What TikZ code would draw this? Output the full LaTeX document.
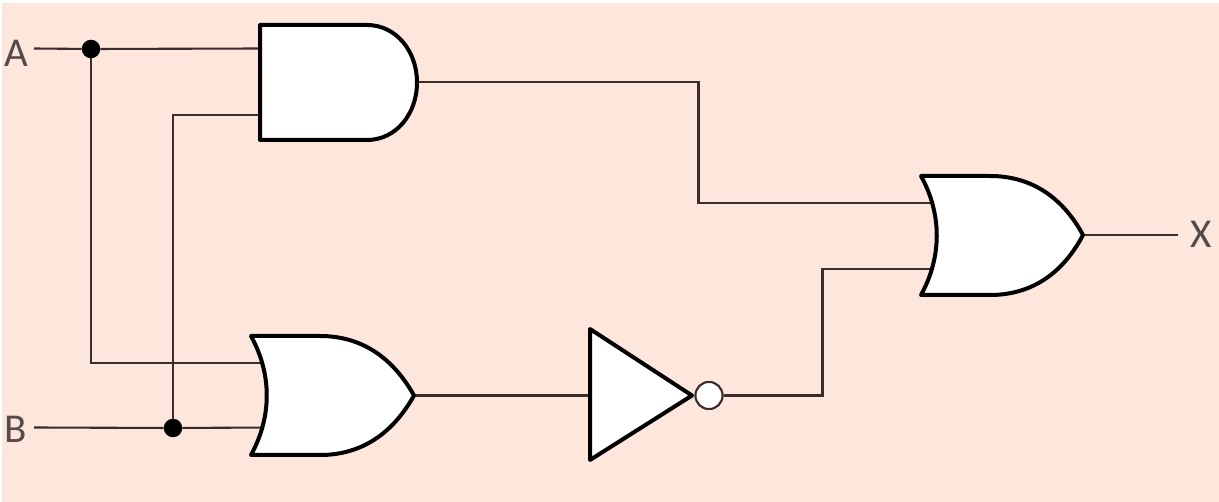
\documentclass[tikz,border=0pt]{standalone}
\usepackage{fontspec}
\setmainfont{Carlito}
\definecolor{peach}{HTML}{FDE6DB}
\definecolor{wirec}{HTML}{3A2C28}
\definecolor{textc}{HTML}{55494A}
\tikzset{
  wire/.style={draw=wirec,line width=2.1pt},
  gatebody/.style={draw=black,fill=white,line width=4pt,line join=round},
  jdot/.style={circle,fill=black,inner sep=0pt,minimum size=18.5pt},
  bubble/.style={circle,draw=wirec,fill=white,line width=2pt,inner sep=0pt,minimum size=27pt},
  lbl/.style={text=textc,font=\fontsize{41pt}{41pt}\selectfont,inner sep=0pt,anchor=center}
}
\begin{document}
\begin{tikzpicture}[x=1pt,y=-1pt]
\useasboundingbox (0,0) rectangle (1219,502);
\fill[white] (0,0) rectangle (1219,502);
\fill[peach] (2,3) rectangle (1219,502);
% pins
\coordinate (astart) at (34,48.5);
\coordinate (bstart) at (34,427.5);
\coordinate (ai) at (262,48.5);
\coordinate (bi) at (262,115);
\coordinate (aturn) at (91,363);
\coordinate (o1a) at (270,363);
\coordinate (o1b) at (270,427.5);
\coordinate (bturn) at (173,115);
\coordinate (ao) at (415,82);
\coordinate (o1o) at (413,395.5);
\coordinate (invi) at (591,395.5);
\coordinate (t1) at (698.5,82);
\coordinate (t2) at (698.5,203);
\coordinate (o2a) at (940,203);
\coordinate (t3) at (822.5,395.5);
\coordinate (t4) at (822.5,269);
\coordinate (o2b) at (940,269);
\coordinate (o2o) at (1082,235);
\coordinate (xend) at (1178,235);
% junctions and inverter bubble
\node[jdot] (ja) at (91,49) {};
\node[jdot] (jb) at (173,428) {};
\node[bubble] (bub) at (709,395.5) {};
% labels
\node[lbl] (A) at (16.5,53.5) {A};
\node[lbl] (B) at (15.5,429) {B};
\node[lbl] (X) at (1201,234) {X};
% wires
\draw[wire] (astart) -- (ja) -- (ai);
\draw[wire] (ja) -- (aturn) -- (o1a);
\draw[wire] (bstart) -- (jb) -- (o1b);
\draw[wire] (jb) -- (bturn) -- (bi);
\draw[wire] (ao) -- (t1) -- (t2) -- (o2a);
\draw[wire] (o1o) -- (invi);
\draw[wire] (bub) -- (t3) -- (t4) -- (o2b);
\draw[wire] (o2o) -- (xend);
% gates
\draw[gatebody] (260,25) -- (367,25) .. controls (396,25) and (417,51) .. (417,82.5)
  .. controls (417,114) and (396,140) .. (367,140) -- (260,140) -- cycle;
\draw[gatebody] (251,336) -- (320,336) .. controls (362,336) and (393,358) .. (414,395.5)
  .. controls (393,433) and (362,455) .. (320,455) -- (251,455)
  .. controls (272,417) and (272,374) .. (251,336) -- cycle;
\draw[gatebody] (921,176) -- (990,176) .. controls (1032,176) and (1063,198) .. (1083,235)
  .. controls (1063,273) and (1032,295) .. (990,295) -- (921,295)
  .. controls (942,257) and (942,214) .. (921,176) -- cycle;
\draw[gatebody] (590,329) -- (692,395.5) -- (590,460) -- cycle;
\node[bubble] at (bub) {};
\end{tikzpicture}
\end{document}
